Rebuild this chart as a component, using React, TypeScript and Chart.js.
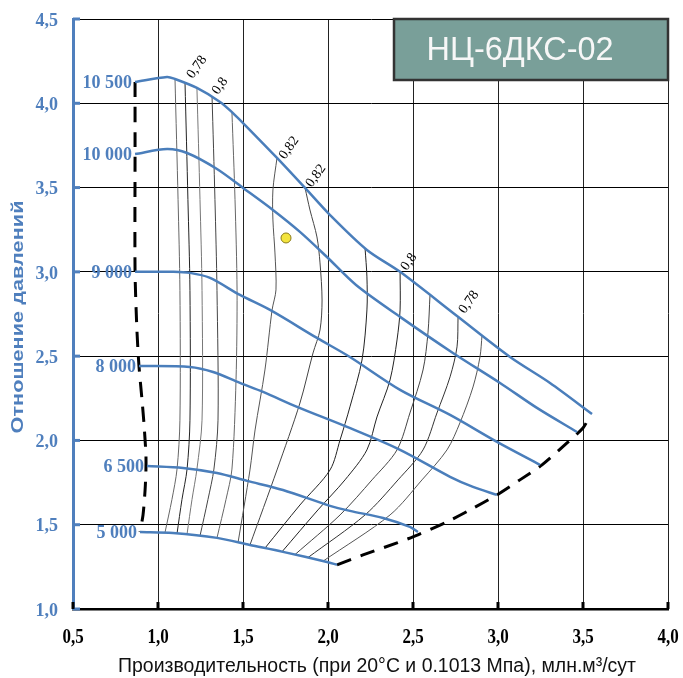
import React, { useEffect, useRef } from 'react';
import { Chart, registerables } from 'chart.js';

Chart.register(...registerables);

// ---------- axis ticks ----------
const xTickValues = [0.5, 1.0, 1.5, 2.0, 2.5, 3.0, 3.5, 4.0];
const xTickLabels = ['0,5', '1,0', '1,5', '2,0', '2,5', '3,0', '3,5', '4,0'];
const yTickValues = [1.0, 1.5, 2.0, 2.5, 3.0, 3.5, 4.0, 4.5];
const yTickLabels = ['1,0', '1,5', '2,0', '2,5', '3,0', '3,5', '4,0', '4,5'];

// ---------- texts ----------
const chartTitle = 'НЦ-6ДКС-02';
const xTitle = 'Производительность (при 20°C и 0.1013 Мпа), млн.м³/сут';
const yTitle = 'Отношение давлений';

// ---------- speed lines (rpm) ----------
const speedNames = ['10 500', '10 000', '9 000', '8 000', '6 500', '5 000'];
const rpm10500: number[][] = [[0.865, 4.126], [1.053, 4.156], [1.1, 4.144], [1.229, 4.091], [1.365, 4.008], [1.441, 3.942], [1.512, 3.871], [1.7, 3.676], [1.865, 3.498], [2.012, 3.337], [2.229, 3.13], [2.424, 3.0], [2.759, 2.738], [3.071, 2.495], [3.306, 2.341], [3.553, 2.157]];
const rpm10000: number[][] = [[0.865, 3.699], [1.053, 3.729], [1.171, 3.705], [1.347, 3.61], [1.5, 3.498], [1.676, 3.367], [1.835, 3.237], [1.994, 3.088], [2.165, 2.922], [2.424, 2.733], [2.735, 2.519], [3.012, 2.341], [3.229, 2.193], [3.465, 2.05]];
const rpm9000: number[][] = [[0.865, 3.0], [1.088, 3.0], [1.188, 2.994], [1.306, 2.964], [1.482, 2.863], [1.659, 2.774], [1.935, 2.608], [2.129, 2.495], [2.424, 2.3], [2.718, 2.151], [2.994, 1.991], [3.247, 1.855]];
const rpm8000: number[][] = [[0.888, 2.442], [1.188, 2.436], [1.324, 2.406], [1.482, 2.341], [1.618, 2.288], [1.818, 2.199], [2.112, 2.08], [2.424, 1.944], [2.718, 1.784], [2.853, 1.724], [2.994, 1.677]];
const rpm6500: number[][] = [[0.935, 1.849], [1.147, 1.837], [1.347, 1.807], [1.524, 1.76], [1.735, 1.706], [2.012, 1.612], [2.129, 1.582], [2.324, 1.54], [2.482, 1.487], [2.529, 1.457]];
const rpm5000: number[][] = [[0.894, 1.457], [1.088, 1.451], [1.347, 1.422], [1.541, 1.38], [1.735, 1.339], [1.994, 1.279], [2.053, 1.262]];

// ---------- surge & choke boundaries ----------
const surgeLine: number[][] = [[0.865, 4.126], [0.865, 3.699], [0.865, 3.0], [0.876, 2.655], [0.888, 2.442], [0.906, 2.24], [0.918, 2.092], [0.929, 1.914], [0.929, 1.825], [0.924, 1.706], [0.912, 1.558], [0.894, 1.457]];
const chokeLine: number[][] = [[2.053, 1.262], [2.206, 1.321], [2.406, 1.392], [2.529, 1.44], [2.7, 1.517], [2.835, 1.588], [2.994, 1.677], [3.129, 1.766], [3.259, 1.855], [3.406, 1.985], [3.5, 2.074], [3.535, 2.133]];

// ---------- efficiency lines ----------
const eff1: number[][] = [[1.1, 4.144], [1.118, 3.43], [1.129, 2.89], [1.129, 2.12], [1.112, 1.83], [1.082, 1.65], [1.041, 1.453]];
const eff2: number[][] = [[1.159, 4.12], [1.176, 3.43], [1.188, 2.89], [1.188, 2.12], [1.171, 1.83], [1.141, 1.65], [1.112, 1.448]];
const eff3: number[][] = [[1.229, 4.09], [1.247, 3.43], [1.259, 2.89], [1.259, 2.12], [1.229, 1.83], [1.2, 1.65], [1.171, 1.445]];
const eff4: number[][] = [[1.318, 4.037], [1.335, 3.43], [1.347, 2.89], [1.353, 2.12], [1.329, 1.83], [1.294, 1.65], [1.247, 1.433]];
const eff5: number[][] = [[1.435, 3.947], [1.453, 3.43], [1.465, 2.89], [1.459, 2.36], [1.435, 1.83], [1.4, 1.65], [1.347, 1.422]];
const eff6: number[][] = [[1.7, 3.676], [1.676, 3.486], [1.676, 3.308], [1.688, 3.112], [1.694, 2.893], [1.671, 2.774], [1.629, 2.418], [1.571, 2.062], [1.541, 1.825], [1.471, 1.395]];
const eff7: number[][] = [[1.865, 3.498], [1.894, 3.367], [1.935, 3.207], [1.953, 3.053], [1.965, 2.833], [1.953, 2.655], [1.912, 2.519], [1.835, 2.222], [1.7, 1.825], [1.541, 1.38]];
const eff8: number[][] = [[2.218, 3.14], [2.229, 2.97], [2.229, 2.774], [2.2, 2.477], [2.129, 2.199], [2.071, 2.003], [2.012, 1.825], [1.835, 1.617], [1.629, 1.361]];
const eff9: number[][] = [[2.424, 3.0], [2.424, 2.774], [2.406, 2.596], [2.365, 2.359], [2.288, 2.139], [2.229, 1.944], [2.1, 1.766], [1.941, 1.588], [1.729, 1.339]];
const eff10: number[][] = [[2.6, 2.862], [2.588, 2.638], [2.559, 2.418], [2.482, 2.163], [2.406, 1.944], [2.259, 1.766], [2.071, 1.558], [1.806, 1.323]];
const eff11: number[][] = [[2.765, 2.734], [2.759, 2.555], [2.718, 2.377], [2.641, 2.163], [2.559, 1.944], [2.412, 1.766], [2.218, 1.558], [1.882, 1.305]];
const eff12: number[][] = [[2.906, 2.623], [2.894, 2.495], [2.853, 2.317], [2.776, 2.104], [2.7, 1.944], [2.553, 1.766], [2.365, 1.558], [1.971, 1.284]];

// efficiency labels
const effLabelTexts = ['0,78', '0,8', '0,82', '0,82', '0,8', '0,78'];
const effLabelX = [1.229, 1.365, 1.771, 1.929, 2.476, 2.829];
const effLabelY = [4.215, 4.103, 3.735, 3.569, 3.059, 2.821];

// operating point
const workPoint: number[][] = [[1.753, 3.201]];

const BLUE = '#4f7fbd';
const LINE_BLUE = '#4a7ebb';

const speedSeries = [rpm10500, rpm10000, rpm9000, rpm8000, rpm6500, rpm5000];
const effSeries = [eff1, eff2, eff3, eff4, eff5, eff6, eff7, eff8, eff9, eff10, eff11, eff12];
const effColors = ['#666', '#222', '#777', '#444', '#666', '#555', '#444', '#222', '#222', '#444', '#333', '#555'];

const toPts = (a: number[][]) => a.map(([x, y]) => ({ x, y }));

function drawText(ctx: CanvasRenderingContext2D, s: string, x: number, y: number, font: string, color: string, align: CanvasTextAlign = 'center', sx = 1, rot = 0) {
  ctx.save();
  ctx.font = font;
  ctx.fillStyle = color;
  ctx.textAlign = align;
  ctx.textBaseline = 'middle';
  ctx.translate(x, y);
  if (rot) ctx.rotate(rot);
  ctx.scale(sx, 1);
  ctx.fillText(s, 0, 0);
  ctx.restore();
}

function fitScale(ctx: CanvasRenderingContext2D, s: string, font: string, target: number) {
  ctx.save();
  ctx.font = font;
  const w = ctx.measureText(s).width;
  ctx.restore();
  return w > 0 ? target / w : 1;
}

const overlayPlugin = {
  id: 'overlay',
  afterDraw(chart: any) {
    const ctx: CanvasRenderingContext2D = chart.ctx;
    const { left, right, top, bottom } = chart.chartArea;
    const xs = chart.scales.x;
    const ys = chart.scales.y;
    ctx.save();

    // inner tick marks
    ctx.lineWidth = 3;
    ctx.strokeStyle = BLUE;
    yTickValues.forEach((v) => {
      const py = ys.getPixelForValue(v);
      ctx.beginPath();
      ctx.moveTo(left, py);
      ctx.lineTo(left + 7, py);
      ctx.stroke();
    });
    ctx.strokeStyle = '#000';
    xTickValues.forEach((v) => {
      const px = xs.getPixelForValue(v);
      ctx.beginPath();
      ctx.moveTo(px, bottom);
      ctx.lineTo(px, bottom - 7);
      ctx.stroke();
    });

    // tick labels
    const yFont = 'bold 18px "Liberation Serif", serif';
    yTickValues.forEach((v, i) => {
      drawText(ctx, yTickLabels[i], left - 15, ys.getPixelForValue(v) + 2, yFont, BLUE, 'right');
    });
    const xFont = 'bold 20px "Liberation Serif", serif';
    xTickValues.forEach((v, i) => {
      drawText(ctx, xTickLabels[i], xs.getPixelForValue(v), bottom + 29, xFont, '#000', 'center', 0.85);
    });

    // axis titles
    const xtFont = '20px "Liberation Sans", Arial, sans-serif';
    drawText(ctx, xTitle, left + 304, bottom + 57, xtFont, '#111', 'center', fitScale(ctx, xTitle, xtFont, 518));
    const ytFont = 'bold 17px "Liberation Sans", Arial, sans-serif';
    drawText(ctx, yTitle, left - 55, (top + bottom) / 2 + 3, ytFont, BLUE, 'center', fitScale(ctx, yTitle, ytFont, 233), -Math.PI / 2);

    // speed labels
    const spFont = 'bold 18px "Liberation Serif", serif';
    speedSeries.forEach((s, i) => {
      const px = xs.getPixelForValue(s[0][0]);
      const py = ys.getPixelForValue(s[0][1]);
      drawText(ctx, speedNames[i], px - 3, py + 1, spFont, BLUE, 'right');
    });

    // efficiency labels
    const efFont = '14px "Liberation Serif", serif';
    effLabelTexts.forEach((t, i) => {
      drawText(ctx, t, xs.getPixelForValue(effLabelX[i]), ys.getPixelForValue(effLabelY[i]), efFont, '#000', 'center', 1, -0.95);
    });

    // title box
    const bw = 274;
    const bh = 61;
    const bx = right - bw;
    const by = top;
    ctx.fillStyle = '#799f99';
    ctx.fillRect(bx, by, bw, bh);
    ctx.lineWidth = 2.5;
    ctx.strokeStyle = '#333';
    ctx.strokeRect(bx, by, bw, bh);
    const tFont = '34px "Liberation Sans", Arial, sans-serif';
    drawText(ctx, chartTitle, bx + 126, by + 32, tFont, '#f7f7f7', 'center', fitScale(ctx, chartTitle, tFont, 187));

    ctx.restore();
  },
};

export default function App() {
  const canvasRef = useRef<HTMLCanvasElement | null>(null);

  useEffect(() => {
    if (!canvasRef.current) return;
    const datasets: any[] = [];
    datasets.push({
      data: toPts(workPoint),
      showLine: false,
      pointRadius: 5,
      pointBackgroundColor: '#f3e43e',
      pointBorderColor: '#8a7b1a',
      pointBorderWidth: 1,
      order: 0,
    });
    speedSeries.forEach((s) => {
      datasets.push({
        data: toPts(s),
        showLine: true,
        borderColor: LINE_BLUE,
        borderWidth: 2.5,
        pointRadius: 0,
        tension: 0.3,
        order: 1,
      });
    });
    [surgeLine, chokeLine].forEach((s) => {
      datasets.push({
        data: toPts(s),
        showLine: true,
        borderColor: '#000',
        borderWidth: 3,
        borderDash: [15, 10],
        pointRadius: 0,
        tension: 0.25,
        order: 2,
      });
    });
    effSeries.forEach((s, i) => {
      datasets.push({
        data: toPts(s),
        showLine: true,
        borderColor: effColors[i],
        borderWidth: 1,
        pointRadius: 0,
        tension: 0.3,
        order: 3,
      });
    });

    const chart = new Chart(canvasRef.current, {
      type: 'scatter',
      data: { datasets },
      options: {
        responsive: false,
        animation: false,
        devicePixelRatio: 1,
        layout: { padding: { left: 0, top: 19, right: 15, bottom: 0 } },
        plugins: { legend: { display: false }, tooltip: { enabled: false } },
        scales: {
          x: {
            type: 'linear',
            min: 0.5,
            max: 4.0,
            ticks: { stepSize: 0.5, display: false },
            grid: { color: '#222', lineWidth: 1, drawTicks: false },
            border: { color: '#000', width: 2.5 },
            afterFit: (s: any) => { s.height = 69; },
          },
          y: {
            type: 'linear',
            min: 1.0,
            max: 4.5,
            ticks: { stepSize: 0.5, display: false },
            grid: { color: '#000', lineWidth: 1, drawTicks: false },
            border: { color: BLUE, width: 3 },
            afterFit: (s: any) => { s.width = 73; },
          },
        },
      } as any,
      plugins: [overlayPlugin],
    });
    return () => chart.destroy();
  }, []);

  return (
    <div style={{ position: 'absolute', left: 0, top: 0, width: 683, height: 678 }}>
      <canvas ref={canvasRef} width={683} height={678} style={{ display: 'block' }} />
    </div>
  );
}
